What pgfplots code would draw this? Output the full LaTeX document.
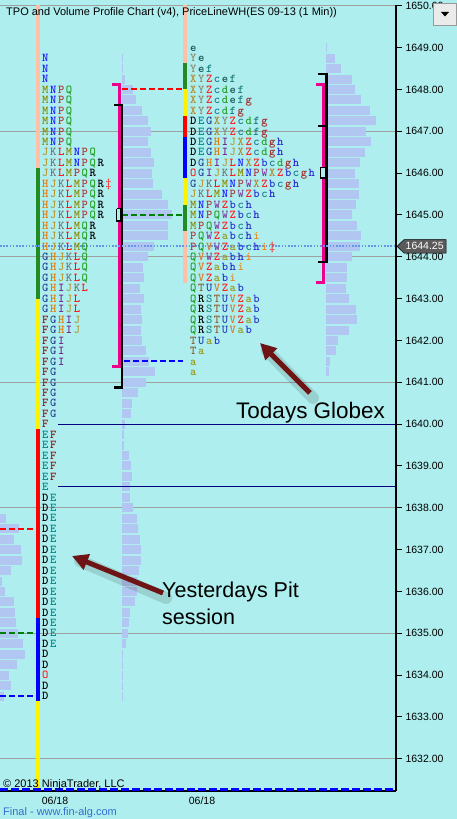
\documentclass[border=0pt]{standalone}
\usepackage{fontspec}
\setmainfont{Liberation Sans}
\usepackage{pgfplots}
\pgfplotsset{compat=1.18}
\usepackage{pgfplotstable}
\usetikzlibrary{arrows.meta}

\definecolor{bg}{RGB}{175,238,238}
\definecolor{peach}{RGB}{255,192,165}
\definecolor{fgreen}{RGB}{34,139,34}
\definecolor{dgreen}{RGB}{0,128,0}
\definecolor{gridgray}{RGB}{160,160,160}
\definecolor{navy}{RGB}{0,0,128}
\definecolor{vol}{RGB}{178,198,242}
\definecolor{dotblue}{RGB}{100,149,237}
\definecolor{arrowc}{RGB}{110,20,20}
\definecolor{linkblue}{RGB}{47,111,207}
\definecolor{markgray}{RGB}{90,90,90}
% colours of the TPO letters
\definecolor{tpoD}{RGB}{0,0,0}
\definecolor{tpoE}{RGB}{0,139,139}
\definecolor{tpoF}{RGB}{139,26,26}
\definecolor{tpoG}{RGB}{40,70,150}
\definecolor{tpoH}{RGB}{232,120,0}
\definecolor{tpoI}{RGB}{120,30,140}
\definecolor{tpoJ}{RGB}{184,150,46}
\definecolor{tpoK}{RGB}{112,112,112}
\definecolor{tpoL}{RGB}{255,16,16}
\definecolor{tpoM}{RGB}{138,138,0}
\definecolor{tpoN}{RGB}{26,26,255}
\definecolor{tpoO}{RGB}{255,32,32}
\definecolor{tpoP}{RGB}{176,58,58}
\definecolor{tpoQ}{RGB}{34,160,34}
\definecolor{tpoR}{RGB}{0,0,0}
\definecolor{tpoS}{RGB}{40,140,140}
\definecolor{tpoT}{RGB}{140,90,40}
\definecolor{tpoU}{RGB}{40,70,180}
\definecolor{tpoV}{RGB}{216,122,42}
\definecolor{tpoW}{RGB}{122,58,154}
\definecolor{tpoX}{RGB}{176,138,42}
\definecolor{tpoY}{RGB}{138,138,106}
\definecolor{tpoZ}{RGB}{255,26,26}
\definecolor{tpoa}{RGB}{154,154,32}
\definecolor{tpob}{RGB}{40,58,208}
\definecolor{tpoc}{RGB}{32,122,138}
\definecolor{tpod}{RGB}{40,160,40}
\definecolor{tpoe}{RGB}{26,90,90}
\definecolor{tpof}{RGB}{26,122,122}
\definecolor{tpog}{RGB}{160,40,40}
\definecolor{tpoh}{RGB}{40,40,208}
\definecolor{tpoi}{RGB}{232,138,26}
\definecolor{tpomark}{RGB}{255,30,30}

% one coloured box per letter, + is the red marker
\ExplSyntaxOn
\NewDocumentCommand\tpo{m}{
  \tl_set:Nx \l_tmpa_tl {#1}
  \tl_map_inline:Nn \l_tmpa_tl {
    \makebox[7.9pt][c]{
      \str_if_eq:nnTF {##1} {+}
        {\textcolor{tpomark}{\ddag}}
        {\textcolor{tpo##1}{##1}}
    }
  }
}
\ExplSyntaxOff

\pgfplotstableread{
y s
1648.75 N
1648.5 N
1648.25 N
1648.0 MNPQ
1647.75 MNPQ
1647.5 MNPQ
1647.25 MNPQ
1647.0 MNPQ
1646.75 MNPQ
1646.5 JKLMNPQ
1646.25 JKLMNPQR
1646.0 JKLMPQR
1645.75 HJKLMPQR+
1645.5 HJKLMPQR
1645.25 HJKLMPQR
1645.0 HJKLMPQR
1644.75 HJKLMQR
1644.5 HJKLMQR
1644.25 HJKLMQ
1644.0 GHJKLQ
1643.75 GHJKLQ
1643.5 GHJKLQ
1643.25 GHIJKL
1643.0 GHIJL
1642.75 GHIJL
1642.5 FGHIJ
1642.25 FGHIJ
1642.0 FGI
1641.75 FGI
1641.5 FGI
1641.25 FG
1641.0 FG
1640.75 FG
1640.5 FG
1640.25 FG
1640.0 F
1639.75 EF
1639.5 EF
1639.25 EF
1639.0 EF
1638.75 EF
1638.5 E
1638.25 DE
1638.0 DE
1637.75 DE
1637.5 DE
1637.25 DE
1637.0 DE
1636.75 DE
1636.5 DE
1636.25 DE
1636.0 DE
1635.75 DE
1635.5 DE
1635.25 DE
1635.0 DE
1634.75 DE
1634.5 D
1634.25 D
1634.0 O
1633.75 D
1633.5 D
}\tpoleft

\pgfplotstableread{
y s
1649.0 e
1648.75 Ye
1648.5 Yef
1648.25 XYZcef
1648.0 XYZcdef
1647.75 XYZcdefg
1647.5 XYZcdfg
1647.25 DEGXYZcdfg
1647.0 DEGXYZcdfg
1646.75 DEGHIJXZcdgh
1646.5 DEGHIJXZcdgh
1646.25 DGHIJLNXZbcdgh
1646.0 OGIJKLMNPWXZbcgh
1645.75 GJKLMNPWXZbcgh
1645.5 JKLMNPWZbch
1645.25 MNPWZbch
1645.0 MNPQWZbch
1644.75 MPQWZbch
1644.5 PQWZabchi
1644.25 PQVWZabchi+
1644.0 QVWZabhi
1643.75 QVZabhi
1643.5 QVZabi
1643.25 QTUVZab
1643.0 QRSTUVZab
1642.75 QRSTUVZab
1642.5 QRSTUVZab
1642.25 QRSTUVab
1642.0 TUab
1641.75 Ta
1641.5 a
1641.25 a
}\tpotoday

% volume at price, widths in px
\pgfplotstableread{
y w
1637.75 6
1637.5 19
1637.25 14
1637.0 21
1636.75 22
1636.5 11
1636.25 2
1636.0 5
1635.75 14
1635.5 15
1635.25 16
1635.0 18
1634.75 23
1634.5 25
1634.25 17
1634.0 9
1633.75 11
1633.5 4
}\volpit

\pgfplotstableread{
y w
1648.75 1
1648.5 1
1648.25 3
1648.0 11
1647.75 14
1647.5 20
1647.25 26
1647.0 29
1646.75 26
1646.5 29
1646.25 32
1646.0 30
1645.75 31
1645.5 40
1645.25 46
1645.0 50
1644.75 46
1644.5 46
1644.25 32
1644.0 26
1643.75 21
1643.5 22
1643.25 18
1643.0 22
1642.75 19
1642.5 20
1642.25 19
1642.0 20
1641.75 24
1641.5 27
1641.25 33
1641.0 24
1640.75 16
1640.5 10
1640.25 9
1640.0 3
1639.75 2
1639.5 2
1639.25 7
1639.0 9
1638.75 10
1638.5 8
1638.25 8
1638.0 11
1637.75 15
1637.5 16
1637.25 18
1637.0 19
1636.75 19
1636.5 17
1636.25 15
1636.0 15
1635.75 13
1635.5 8
1635.25 7
1635.0 6
1634.75 4
1634.5 1
1634.25 1
1634.0 1
1633.75 1
1633.5 1
}\volday

\pgfplotstableread{
y w
1649.0 1
1648.75 9
1648.5 15
1648.25 26
1648.0 29
1647.75 35
1647.5 44
1647.25 50
1647.0 40
1646.75 45
1646.5 39
1646.25 34
1646.0 29
1645.75 33
1645.5 33
1645.25 30
1645.0 26
1644.75 31
1644.5 35
1644.25 34
1644.0 26
1643.75 21
1643.5 21
1643.25 20
1643.0 23
1642.75 30
1642.5 31
1642.25 23
1642.0 12
1641.75 10
1641.5 4
1641.25 3
}\volglobex

\pgfplotstableread{
y
1650
1647
1644
1641
1638
1635
1632
}\gridtab

\begin{document}
\begin{tikzpicture}
\fill[bg] (0pt,-28pt) rectangle (457pt,791pt);
\begin{axis}[
  at={(0pt,0pt)}, anchor=south west,
  width=396pt, height=786pt, scale only axis,
  xmin=0, xmax=396, ymin=1631.23, ymax=1650.02,
  clip=false,
  axis line style={draw=none},
  ytick={1632,1633,...,1650},
  ytick pos=right, yticklabel pos=right,
  tick align=outside, major tick length=6pt,
  ytick style={black, line width=1pt},
  yticklabel style={font=\fontsize{10.5}{12}\selectfont,
    /pgf/number format/.cd, fixed, fixed zerofill, precision=2,
    1000 sep={}, assume math mode=true},
  xtick={55,202}, xticklabels={06/18,06/18},
  xtick style={draw=none},
  xticklabel style={font=\fontsize{10.5}{12}\selectfont, yshift=3.5pt},
  bar/.style={vol, line width=9pt, line cap=butt,
    quiver={u=\thisrow{w}, v=0, every arrow/.append style={-}}},
  tpotext/.style={draw=none, mark=none, point meta=explicit symbolic,
    nodes near coords={\tpo{\pgfplotspointmeta}},
    every node near coord/.append style={anchor=base west, inner sep=0pt,
      yshift=-3.7pt, font=\ttfamily\bfseries\fontsize{12}{13}\selectfont}},
]
% grid
\addplot[gridgray, line width=1pt,
  quiver={u=396, v=0, every arrow/.append style={-}}]
  table[x expr=0, y=y] {\gridtab};

% volume profiles
\addplot[bar] table[x expr=0, y=y] {\volpit};
\addplot[bar] table[x expr=122, y=y] {\volday};
\addplot[bar] table[x expr=326, y=y] {\volglobex};

% globex high / low
\addplot[navy, line width=1pt] coordinates {(58,1640) (396,1640)};
\addplot[navy, line width=1pt] coordinates {(58,1638.5) (396,1638.5)};

% value area / poc dashes
\addplot[red, line width=2pt, dash pattern=on 6pt off 3pt] coordinates {(0,1637.5) (36,1637.5)};
\addplot[dgreen, line width=2pt, dash pattern=on 6pt off 3pt] coordinates {(0,1635) (36,1635)};
\addplot[blue, line width=2pt, dash pattern=on 6pt off 3pt] coordinates {(0,1633.5) (36,1633.5)};
\addplot[red, line width=2pt, dash pattern=on 6pt off 3pt] coordinates {(122,1648) (183,1648)};
\addplot[dgreen, line width=2pt, dash pattern=on 6pt off 3pt] coordinates {(122,1645) (183,1645)};
\addplot[blue, line width=2pt, dash pattern=on 6pt off 3pt] coordinates {(124,1641.5) (183,1641.5)};

% period colour bars
\addplot[peach, line width=4.2pt] coordinates {(38,1650.02) (38,1646.125)};
\addplot[fgreen, line width=4.2pt] coordinates {(38,1646.125) (38,1643.0)};
\addplot[yellow, line width=4.2pt] coordinates {(38,1643.0) (38,1639.875)};
\addplot[red, line width=4.2pt] coordinates {(38,1639.875) (38,1635.375)};
\addplot[blue, line width=4.2pt] coordinates {(38,1635.375) (38,1633.375)};
\addplot[yellow, line width=4.2pt] coordinates {(38,1633.375) (38,1631.23)};

\addplot[peach, line width=4pt] coordinates {(185.3,1650.02) (185.3,1648.625)};
\addplot[fgreen, line width=4pt] coordinates {(185.3,1648.625) (185.3,1648.0)};
\addplot[yellow, line width=4pt] coordinates {(185.3,1648.0) (185.3,1647.375)};
\addplot[red, line width=4pt] coordinates {(185.3,1647.375) (185.3,1646.875)};
\addplot[blue, line width=4pt] coordinates {(185.3,1646.875) (185.3,1645.875)};
\addplot[yellow, line width=4pt] coordinates {(185.3,1645.875) (185.3,1645.25)};
\addplot[fgreen, line width=4pt] coordinates {(185.3,1645.25) (185.3,1644.625)};
\addplot[peach, line width=4pt] coordinates {(185.3,1644.625) (185.3,1643.375)};

% range brackets and poc boxes
\addplot[magenta, line width=3pt] coordinates {(112,1648.125) (119.3,1648.125) (119.3,1641.375) (112,1641.375)};
\addplot[black, line width=2.6pt] coordinates {(114,1647.625) (122,1647.625) (122,1640.875) (114,1640.875)};
\addplot[black, line width=1.5pt, fill=bg] coordinates {(116.5,1645.15) (121,1645.15) (121,1644.86) (116.5,1644.86) (116.5,1645.15)};

\addplot[magenta, line width=3pt] coordinates {(316,1648.125) (323.5,1648.125) (323.5,1643.375) (316,1643.375)};
\addplot[black, line width=2.6pt] coordinates {(318,1648.375) (326.5,1648.375) (326.5,1643.875) (318,1643.875)};
\addplot[black, line width=2pt] coordinates {(318,1647.125) (325,1647.125)};
\addplot[black, line width=1.5pt, fill=bg] coordinates {(320.5,1646.14) (325.5,1646.14) (325.5,1645.89) (320.5,1645.89) (320.5,1646.14)};

% last price
\addplot[dotblue, line width=2pt, dash pattern=on 1.6pt off 1.6pt] coordinates {(0,1644.25) (396,1644.25)};

% TPO letters
\addplot[tpotext] table[x expr=41.2, y=y, meta=s] {\tpoleft};
\addplot[tpotext] table[x expr=189.2, y=y, meta=s] {\tpotoday};

% frame
\addplot[black, line width=1.2pt] coordinates {(396,1631.23) (396,1650.02)};
\addplot[black, line width=1.5pt] coordinates {(0,1631.23) (396,1631.23)};
\addplot[blue, line width=2.5pt, dash pattern=on 8pt off 3pt] coordinates {(0,1631.27) (394,1631.27)};

% price marker
\filldraw[fill=markgray, draw=black, line width=0.5pt]
  (axis cs:397,1644.25) -- (axis cs:404,1644.41) -- (axis cs:446,1644.41)
  -- (axis cs:446,1644.09) -- (axis cs:404,1644.09) -- cycle;
\node[white, anchor=west, inner sep=0pt, font=\fontsize{10.5}{12}\selectfont]
  at (axis cs:405.5,1644.25) {1644.25};
\end{axis}

% annotations, in pixel coordinates of the screenshot
\begin{scope}[x=1pt, y=-1pt, shift={(0pt,791pt)}]
  \node[anchor=west, inner sep=0pt, font=\fontsize{11}{13}\selectfont] at (6,13)
    {TPO and Volume Profile Chart (v4), PriceLineWH(ES 09-13 (1 Min))};
  \node[anchor=west, inner sep=0pt, font=\fontsize{11}{13}\selectfont] at (3,785)
    {\textcopyright{} 2013 NinjaTrader, LLC};
  \node[anchor=west, inner sep=0pt, text=linkblue, font=\fontsize{11}{13}\selectfont] at (3,812.5)
    {Final - www.fin-alg.com};
  % dropdown button
  \filldraw[fill=black!8, draw=black!40, line width=0.8pt] (433,3) rectangle (456.5,25);
  \fill[black] (441,12) -- (449,12) -- (445,16.5) -- cycle;
  % arrows with their shadows
  \draw[black, opacity=0.12, line width=12pt, line cap=round] (166,598) -- (80,561);
  \draw[black, opacity=0.12, line width=12pt, line cap=round] (313,398) -- (267,351);
  \draw[arrowc, line width=5pt, -{Triangle[length=16pt, width=16pt]}] (163,593) -- (72,556);
  \draw[arrowc, line width=5pt, -{Triangle[length=16pt, width=16pt]}] (310,393) -- (260,343);
  \node[anchor=base west, inner sep=0pt, font=\fontsize{22.5}{26}\selectfont] at (236,419)
    {Todays Globex};
  \node[anchor=base west, inner sep=0pt, font=\fontsize{21.5}{26}\selectfont] at (162,598)
    {Yesterdays Pit};
  \node[anchor=base west, inner sep=0pt, font=\fontsize{21.5}{26}\selectfont] at (162,625)
    {session};
\end{scope}
\pgfresetboundingbox
\useasboundingbox (0pt,-28pt) rectangle (457pt,791pt);
\end{tikzpicture}
\end{document}
